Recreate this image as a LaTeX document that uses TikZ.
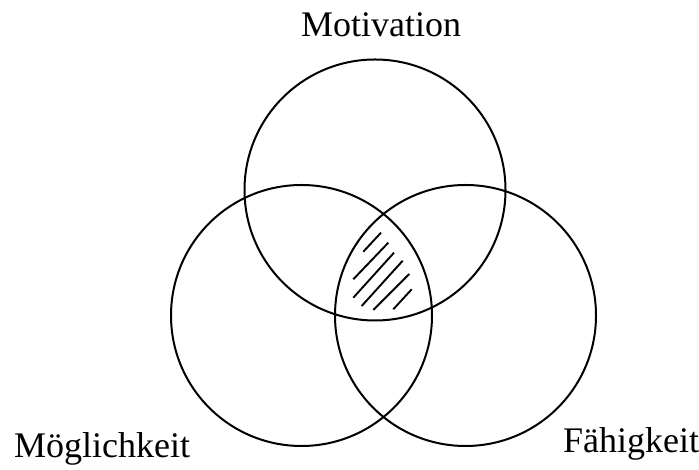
\documentclass[tikz,border=0pt]{standalone}
\usepackage{fontspec}
\setmainfont{Liberation Serif}
\begin{document}
\begin{tikzpicture}[x=1pt,y=1pt]
\tikzset{ring/.style={line width=2pt},
  hatch/.style={line width=1.9pt},
  label/.style={anchor=base,inner sep=0pt,font=\fontsize{36}{43}\selectfont}}
\useasboundingbox (0,0) rectangle (699,470);

\draw[ring] (375,280) circle (130.5);
\draw[ring] (301.5,154.5) circle (130.5);
\draw[ring] (465.5,154.5) circle (130.5);

\node[label] (motiv) at (381,433) {Motivation};
\node[label] (moegl) at (102,12) {Möglichkeit};
\node[label] (faehig) at (631,17) {Fähigkeit};

% hatching in the common area
\foreach \xa/\ya/\xb/\yb in {381/237.3/363.3/218.3, 388.3/227.3/353.3/190.7,
  394/217.3/353.3/172.3, 402.7/209.3/361.7/164, 409.3/196/373.3/160,
  411.7/180.7/393.3/160.7}
  \draw[hatch] (\xa,\ya) -- (\xb,\yb);
\end{tikzpicture}
\end{document}
